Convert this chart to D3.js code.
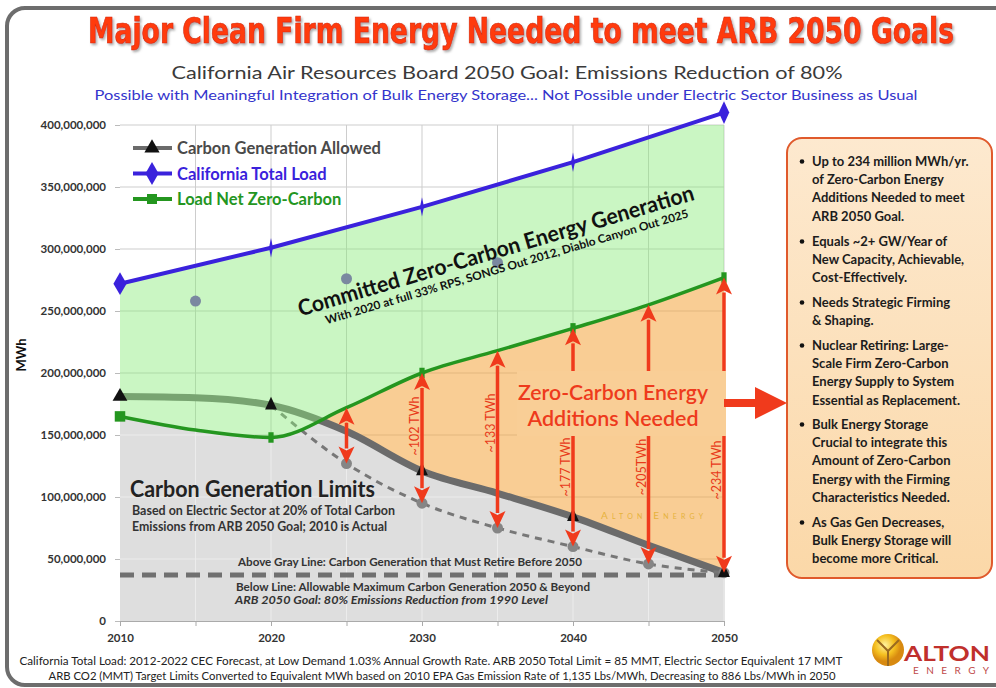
<!DOCTYPE html>
<html>
<head>
<meta charset="utf-8">
<script src="https://cdn.jsdelivr.net/npm/d3@7"></script>
<style>
  body { margin: 0; background: #fff; }
  svg text { font-family: Lato, "Open Sans", sans-serif; }
</style>
</head>
<body>
<div id="chart"></div>
<script>
const width = 996;
const height = 688;

// ---- data (MWh) ----
const fiveYears = [2010, 2015, 2020, 2025, 2030, 2035, 2040, 2045, 2050];
const decadeYears = [2010, 2020, 2030, 2040, 2050];
const totalLoad = [272e6, 301e6, 334e6, 370e6, 410e6];
const netZeroCarbon = [165e6, 154e6, 148e6, 172e6, 200e6, 218e6, 236e6, 255e6, 277e6];
const carbonAllowed = [181e6, 180e6, 174e6, 153e6, 121e6, 103e6, 84e6, 61e6, 39e6];
const retireYears = [2020, 2025, 2030, 2035, 2040, 2045, 2050];
const retireTrack = [174e6, 127e6, 95e6, 75e6, 60e6, 46e6, 39e6];
const dotYears = [2015, 2025, 2035];
const dotValues = [258e6, 276e6, 289e6];
const limit2050 = 37e6;
const arrowYears = [2025, 2030, 2035, 2040, 2045, 2050];
const arrowLabels = ["", "~102 TWh", "~133 TWh", "~177 TWh", "~205TWh", "~234 TWh"];
const yTicks = [0, 50e6, 100e6, 150e6, 200e6, 250e6, 300e6, 350e6, 400e6];
const xTicks = [2010, 2020, 2030, 2040, 2050];
const gridYears = [2015, 2020, 2025, 2030, 2035, 2040, 2045, 2050];

const legendNames = ["Carbon Generation Allowed", "California Total Load", "Load Net Zero-Carbon"];
const bulletText = [
    ["Up to 234 million MWh/yr.", "of Zero-Carbon Energy", "Additions Needed to meet", "ARB 2050 Goal."],
    ["Equals ~2+ GW/Year of", "New Capacity, Achievable,", "Cost-Effectively."],
    ["Needs Strategic Firming", "& Shaping."],
    ["Nuclear Retiring: Large-", "Scale Firm Zero-Carbon", "Energy Supply to System", "Essential as Replacement."],
    ["Bulk Energy Storage", "Crucial to integrate this", "Amount of Zero-Carbon", "Energy with the Firming", "Characteristics Needed."],
    ["As Gas Gen Decreases,", "Bulk Energy Storage will", "become more Critical."]
];

// colours
const blue = "#3a22dc", green = "#24961f", grayLine = "#6b6b6b", red = "#f03a1c";

// ---- scales ----
const x = d3.scaleLinear().domain([2010, 2050]).range([120, 724]);
const y = d3.scaleLinear().domain([0, 400e6]).range([621, 125]);

const svg = d3.select("#chart").append("svg").attr("width", width).attr("height", height);
const defs = svg.append("defs");

const shadow = defs.append("filter").attr("id", "shadow")
    .attr("x", "-5%").attr("y", "-20%").attr("width", "110%").attr("height", "150%");
shadow.append("feDropShadow").attr("dx", 1.5).attr("dy", 1.5).attr("stdDeviation", 1)
    .attr("flood-color", "#777").attr("flood-opacity", 0.6);

// frame
svg.append("rect")
    .attr("x", 7).attr("y", 8).attr("width", 1010).attr("height", 677).attr("rx", 18)
    .attr("fill", "#fff").attr("stroke", "#6d6d6d").attr("stroke-width", 4);

// titles
svg.append("text")
    .attr("transform", "translate(521,43) scale(1,1.28)")
    .attr("text-anchor", "middle")
    .attr("textLength", 866).attr("lengthAdjust", "spacingAndGlyphs")
    .style("font-family", "'DejaVu Sans Condensed', 'Liberation Sans Narrow', sans-serif")
    .style("font-weight", "bold").style("font-size", "28px")
    .attr("fill", "#ff3a10").attr("stroke", "#d42a00").attr("stroke-width", 0.5)
    .attr("filter", "url(#shadow)")
    .text("Major Clean Firm Energy Needed to meet ARB 2050 Goals");

svg.append("text")
    .attr("x", 507).attr("y", 79)
    .attr("text-anchor", "middle")
    .attr("textLength", 671).attr("lengthAdjust", "spacingAndGlyphs")
    .style("font-size", "18px").attr("fill", "#3a3a3a")
    .text("California Air Resources Board 2050 Goal: Emissions Reduction of 80%");

svg.append("text")
    .attr("x", 506).attr("y", 100)
    .attr("text-anchor", "middle")
    .attr("textLength", 823).attr("lengthAdjust", "spacingAndGlyphs")
    .style("font-size", "14px").attr("fill", "#3434cc")
    .text("Possible with Meaningful Integration of Bulk Energy Storage... Not Possible under Electric Sector Business as Usual");

// ---- plot ----
const g = svg.append("g");

const areaUnder = (years, curve) => d3.area()
    .x((d, i) => x(years[i]))
    .y0(y(0))
    .y1(d => y(d))
    .curve(curve);

defs.append("clipPath").attr("id", "underGreen")
    .append("path").attr("d", areaUnder(fiveYears, d3.curveMonotoneX)(netZeroCarbon));
defs.append("clipPath").attr("id", "underGray")
    .append("path").attr("d", areaUnder(fiveYears, d3.curveMonotoneX)(carbonAllowed));
defs.append("clipPath").attr("id", "underBlue")
    .append("path").attr("d", areaUnder(decadeYears, d3.curveLinear)(totalLoad));

// gridlines
function drawGrid(parent, color) {
    parent.selectAll(".hg").data(yTicks.slice(1)).join("line")
        .attr("x1", x(2010)).attr("x2", x(2050))
        .attr("y1", d => y(d)).attr("y2", d => y(d))
        .attr("stroke", color).attr("stroke-width", 1);
    parent.selectAll(".vg").data(gridYears).join("line")
        .attr("x1", d => x(d)).attr("x2", d => x(d))
        .attr("y1", y(400e6)).attr("y2", y(0))
        .attr("stroke", color).attr("stroke-width", 1);
}
drawGrid(g.append("g"), "#cdcdcd");

// orange: zero-carbon additions region (under green line)
g.append("path")
    .attr("d", areaUnder(fiveYears, d3.curveMonotoneX)(netZeroCarbon))
    .attr("fill", "#f5a640").attr("opacity", 0.56);

// gray: under both carbon line and green line
g.append("path")
    .attr("d", areaUnder(fiveYears, d3.curveMonotoneX)(carbonAllowed))
    .attr("clip-path", "url(#underGreen)")
    .attr("fill", "#dedede");
drawGrid(g.append("g").attr("clip-path", "url(#underGray)")
    .append("g").attr("clip-path", "url(#underGreen)"), "#ececec");

// 2050 limit dashed line
g.append("line")
    .attr("x1", x(2010)).attr("x2", x(2050))
    .attr("y1", y(limit2050)).attr("y2", y(limit2050))
    .attr("stroke", "#707070").attr("stroke-width", 5)
    .attr("stroke-dasharray", "14,8");

// thick gray carbon line
const lineFive = d3.line().x((d, i) => x(fiveYears[i])).y(d => y(d)).curve(d3.curveMonotoneX);
g.append("path")
    .datum(carbonAllowed)
    .attr("fill", "none").attr("stroke", grayLine).attr("stroke-width", 7)
    .attr("d", lineFive);

// retire track dashed
g.append("path")
    .datum(retireTrack)
    .attr("fill", "none").attr("stroke", "#777").attr("stroke-width", 3)
    .attr("stroke-dasharray", "7,6")
    .attr("d", d3.line().x((d, i) => x(retireYears[i])).y(d => y(d)).curve(d3.curveMonotoneX));
g.selectAll(".rdot").data(retireTrack.slice(1)).join("circle")
    .attr("cx", (d, i) => x(retireYears[i + 1])).attr("cy", d => y(d))
    .attr("r", 5.5).attr("fill", "#858585");

// green overlay between green line and blue line
g.append("path")
    .attr("d", d3.area()
        .x((d, i) => x(fiveYears[i]))
        .y0(y(400e6))
        .y1(d => y(d))
        .curve(d3.curveMonotoneX)(netZeroCarbon))
    .attr("clip-path", "url(#underBlue)")
    .attr("fill", "#8aec7a").attr("opacity", 0.45);

// stray dots
g.selectAll(".sdot").data(dotValues).join("circle")
    .attr("cx", (d, i) => x(dotYears[i])).attr("cy", d => y(d))
    .attr("r", 5.5).attr("fill", "#7a88a0");

// axes
const yAxis = d3.axisLeft(y).tickValues(yTicks).tickSize(5).tickFormat(d3.format(","));
const yG = g.append("g").attr("transform", `translate(${x(2010)},0)`).call(yAxis);
yG.select(".domain").remove();
yG.selectAll(".tick line").attr("stroke", "#bbb");
yG.selectAll(".tick text")
    .style("font-size", "11.5px").style("font-weight", "bold").attr("fill", "#333")
    .attr("x", -14);

const xAxis = d3.axisBottom(x).tickValues(gridYears.concat([2010])).tickSize(5).tickFormat(d => xTicks.includes(d) ? d : "");
const xG = g.append("g").attr("transform", `translate(0,${y(0)})`).call(xAxis);
xG.select(".domain").attr("stroke", "#aaa");
xG.selectAll(".tick line").attr("stroke", "#aaa");
xG.selectAll(".tick text")
    .style("font-size", "11.5px").style("font-weight", "bold").attr("fill", "#333")
    .attr("y", 13);

svg.append("text")
    .attr("transform", "translate(26,355) rotate(-90)")
    .attr("text-anchor", "middle")
    .style("font-size", "13px").style("font-weight", "bold").attr("fill", "#111")
    .text("MWh");

// blue total load line
g.append("path")
    .datum(totalLoad)
    .attr("fill", "none").attr("stroke", blue).attr("stroke-width", 4)
    .attr("d", d3.line().x((d, i) => x(decadeYears[i])).y(d => y(d)));

// green line
g.append("path")
    .datum(netZeroCarbon)
    .attr("fill", "none").attr("stroke", green).attr("stroke-width", 3.5)
    .attr("d", lineFive);

// markers
const decadeIdx = decadeYears.map(yr => fiveYears.indexOf(yr));
const endPoint = i => i === 0 || i === decadeYears.length - 1;
g.selectAll(".tri").data(decadeIdx).join("path")
    .attr("transform", (d, i) => `translate(${x(fiveYears[d])},${y(carbonAllowed[d])}) scale(${i === 0 ? 1 : 0.8},1)`)
    .attr("d", d3.symbol().type(d3.symbolTriangle).size(95))
    .attr("fill", "#111");
g.selectAll(".dia").data(totalLoad).join("path")
    .attr("transform", (d, i) => `translate(${x(decadeYears[i])},${y(d)}) scale(${i === 0 ? 1 : endPoint(i) ? 0.8 : 0.3},${endPoint(i) ? 1 : 0.85})`)
    .attr("d", d3.symbol().type(d3.symbolDiamond).size(150))
    .attr("fill", blue);
g.selectAll(".sq").data(decadeIdx).join("path")
    .attr("transform", (d, i) => `translate(${x(fiveYears[d])},${y(netZeroCarbon[d])}) scale(${i === 0 ? 1 : 0.5},1)`)
    .attr("d", d3.symbol().type(d3.symbolSquare).size(110))
    .attr("fill", green);

// red double arrows
const arrows = arrowYears.map((yr, i) => ({
    x: x(yr),
    top: y(netZeroCarbon[fiveYears.indexOf(yr)]),
    bottom: y(retireTrack[retireYears.indexOf(yr)]),
    label: arrowLabels[i]
}));
const headL = 17, headW = 8;
g.selectAll(".ashaft").data(arrows).join("line")
    .attr("x1", d => d.x).attr("x2", d => d.x)
    .attr("y1", d => d.top + headL - 2).attr("y2", d => d.bottom - headL + 2)
    .attr("stroke", red).attr("stroke-width", 3.5);
g.selectAll(".ahead-top").data(arrows).join("path")
    .attr("d", d => `M${d.x},${d.top} L${d.x - headW},${d.top + headL} L${d.x},${d.top + headL - 4} L${d.x + headW},${d.top + headL} Z`)
    .attr("fill", red);
g.selectAll(".ahead-bot").data(arrows).join("path")
    .attr("d", d => `M${d.x},${d.bottom} L${d.x - headW},${d.bottom - headL} L${d.x},${d.bottom - headL + 4} L${d.x + headW},${d.bottom - headL} Z`)
    .attr("fill", red);

// box behind the "additions needed" text (interrupts the arrows)
g.append("rect")
    .attr("x", 517).attr("y", 371).attr("width", 209).attr("height", 65)
    .attr("fill", "#f9ce96");

const labelCenters = [0, 426, 423, 467, 467, 470];
g.selectAll(".alabel").data(arrows).join("text")
    .attr("transform", (d, i) => `translate(${d.x - 3},${labelCenters[i]}) rotate(-90)`)
    .attr("text-anchor", "middle")
    .style("font-size", "12.5px").attr("fill", "#e8391a")
    .text(d => d.label);

g.append("text")
    .attr("x", 613).attr("y", 400).attr("text-anchor", "middle")
    .attr("textLength", 190).attr("lengthAdjust", "spacingAndGlyphs")
    .style("font-size", "21px").style("font-weight", "600").attr("fill", "#ee3a1c")
    .text("Zero-Carbon Energy");
g.append("text")
    .attr("x", 613).attr("y", 426).attr("text-anchor", "middle")
    .attr("textLength", 171).attr("lengthAdjust", "spacingAndGlyphs")
    .style("font-size", "21px").style("font-weight", "600").attr("fill", "#ee3a1c")
    .text("Additions Needed");

g.append("text")
    .attr("x", 653).attr("y", 519).attr("text-anchor", "middle")
    .attr("textLength", 104).attr("lengthAdjust", "spacing")
    .style("font-size", "10px").style("font-variant", "small-caps").style("letter-spacing", "2px")
    .attr("fill", "#e6b23c")
    .text("Alton Energy");

// big arrow to the box
svg.append("path")
    .attr("d", `M${x(2050)},399 L755,399 L755,387 L787,403 L755,419 L755,407 L${x(2050)},407 Z`)
    .attr("fill", red);

// rotated committed text
const rot = g.append("g").attr("transform", "translate(498,258) rotate(-16.5)");
rot.append("text")
    .attr("text-anchor", "middle")
    .attr("textLength", 412).attr("lengthAdjust", "spacingAndGlyphs")
    .style("font-size", "22px").style("font-weight", "bold").attr("fill", "#111")
    .text("Committed Zero-Carbon Energy Generation");
rot.append("text")
    .attr("x", 6).attr("y", 15)
    .attr("text-anchor", "middle")
    .attr("textLength", 378).attr("lengthAdjust", "spacingAndGlyphs")
    .style("font-size", "11.5px").style("font-weight", "bold").attr("fill", "#111")
    .text("With 2020 at full 33% RPS, SONGS Out 2012, Diablo Canyon Out 2025");

// carbon limits text
const limitText = [
    { t: "Carbon Generation Limits", x: 130, y: 497, s: 22, w: 245, wt: "bold", c: "#222" },
    { t: "Based on Electric Sector at 20% of Total Carbon", x: 132, y: 515, s: 12.5, w: 263, wt: "bold", c: "#333" },
    { t: "Emissions from ARB 2050 Goal; 2010 is Actual", x: 132, y: 531, s: 12.5, w: 255, wt: "bold", c: "#333" },
    { t: "Above Gray Line: Carbon Generation that Must Retire Before 2050", x: 238, y: 566, s: 10.5, w: 344, wt: "bold", c: "#333" },
    { t: "Below Line: Allowable Maximum Carbon Generation 2050 & Beyond", x: 236, y: 591, s: 10.5, w: 354, wt: "bold", c: "#333" },
    { t: "ARB 2050 Goal: 80% Emissions Reduction from 1990 Level", x: 235, y: 604, s: 10.5, w: 313, wt: "bold", c: "#333", it: true }
];
g.selectAll(".lim").data(limitText).join("text")
    .attr("x", d => d.x).attr("y", d => d.y)
    .attr("textLength", d => d.w).attr("lengthAdjust", "spacingAndGlyphs")
    .style("font-size", d => d.s + "px").style("font-weight", d => d.wt)
    .style("font-style", d => d.it ? "italic" : "normal")
    .attr("fill", d => d.c)
    .text(d => d.t);

// legend
const legColors = [grayLine, blue, green];
const legText = ["#4a4a4a", blue, green];
const legSymbols = [d3.symbolTriangle, d3.symbolDiamond, d3.symbolSquare];
const leg = g.selectAll(".leg").data(legendNames).join("g")
    .attr("transform", (d, i) => `translate(133,${148 + i * 25.5})`);
leg.append("line").attr("x1", 0).attr("x2", 39)
    .attr("stroke", (d, i) => legColors[i]).attr("stroke-width", 4);
leg.append("path")
    .attr("transform", "translate(19,0)")
    .attr("d", (d, i) => d3.symbol().type(legSymbols[i]).size(i === 1 ? 150 : 100)())
    .attr("fill", (d, i) => i === 0 ? "#111" : legColors[i]);
leg.append("text")
    .attr("x", 44).attr("y", 6)
    .style("font-size", "16.5px").style("font-weight", "bold")
    .attr("fill", (d, i) => legText[i])
    .text(d => d);

// right box
const box = svg.append("g");
const grad = defs.append("linearGradient").attr("id", "boxFill").attr("x1", 0).attr("y1", 0).attr("x2", 0).attr("y2", 1);
grad.append("stop").attr("offset", "0%").attr("stop-color", "#fde9cf");
grad.append("stop").attr("offset", "100%").attr("stop-color", "#fbd8a8");
box.append("rect")
    .attr("x", 787).attr("y", 138).attr("width", 205).attr("height", 440).attr("rx", 15)
    .attr("fill", "url(#boxFill)").attr("stroke", "#e05a2c").attr("stroke-width", 2);
const bulletTop = [166, 246, 307, 350, 429, 527];
bulletText.forEach((lines, bi) => {
    box.append("circle").attr("cx", 802).attr("cy", bulletTop[bi] - 4.5).attr("r", 2.3).attr("fill", "#111");
    box.selectAll(null).data(lines).join("text")
        .attr("x", 812).attr("y", (d, i) => bulletTop[bi] + i * 18.2)
        .style("font-size", "13px").style("font-weight", "bold").attr("fill", "#1c1c1c")
        .text(d => d);
});

// footer
svg.append("text")
    .attr("x", 431).attr("y", 665).attr("text-anchor", "middle")
    .attr("textLength", 823).attr("lengthAdjust", "spacingAndGlyphs")
    .style("font-size", "11px").attr("fill", "#222")
    .text("California Total Load: 2012-2022 CEC Forecast, at Low Demand 1.03% Annual Growth Rate. ARB 2050 Total Limit = 85 MMT, Electric Sector Equivalent 17 MMT");
svg.append("text")
    .attr("x", 442).attr("y", 680).attr("text-anchor", "middle")
    .attr("textLength", 787).attr("lengthAdjust", "spacingAndGlyphs")
    .style("font-size", "11px").attr("fill", "#222")
    .text("ARB CO2 (MMT) Target Limits Converted to Equivalent MWh based on 2010 EPA Gas Emission Rate of 1,135 Lbs/MWh, Decreasing to 886 Lbs/MWh in 2050");

// logo
const lg = defs.append("radialGradient").attr("id", "sun").attr("cx", "40%").attr("cy", "35%");
lg.append("stop").attr("offset", "0%").attr("stop-color", "#fff3a0");
lg.append("stop").attr("offset", "60%").attr("stop-color", "#f5c020");
lg.append("stop").attr("offset", "100%").attr("stop-color", "#d88a10");
svg.append("circle").attr("cx", 888).attr("cy", 650).attr("r", 16).attr("fill", "url(#sun)");
svg.append("path")
    .attr("d", "M877,640 L888,651 L899,640 M888,651 L888,666")
    .attr("fill", "none").attr("stroke", "#9a6a20").attr("stroke-width", 2);
svg.append("text")
    .attr("x", 904).attr("y", 661)
    .attr("textLength", 86).attr("lengthAdjust", "spacingAndGlyphs")
    .style("font-size", "21px").style("font-weight", "bold").attr("fill", "#c0302c")
    .text("ALTON");
svg.append("text")
    .attr("x", 913).attr("y", 674)
    .attr("textLength", 76).attr("lengthAdjust", "spacing")
    .style("font-size", "10px").attr("fill", "#c04a4a")
    .text("ENERGY");
</script>
</body>
</html>
